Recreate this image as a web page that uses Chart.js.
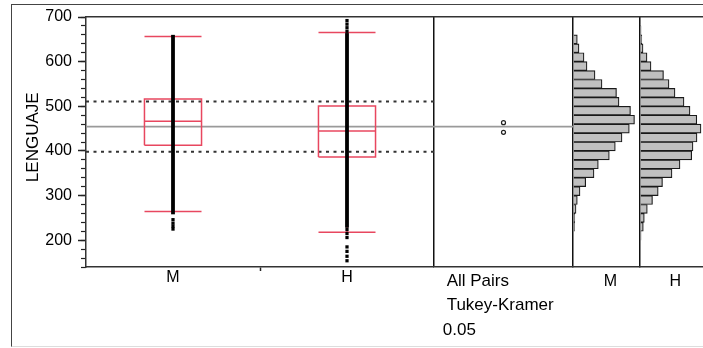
<!DOCTYPE html>
<html><head><meta charset="utf-8">
<script src="https://cdn.jsdelivr.net/npm/chart.js@4/dist/chart.umd.min.js"></script>
<style>
html,body{margin:0;padding:0;background:#fff;}
#wrap{position:relative;width:703px;height:348px;overflow:hidden;}
#frame{position:absolute;left:11px;top:4px;width:720px;height:343px;border-left:1px solid #444;border-top:1px solid #444;border-bottom:1px solid #ddd;box-sizing:border-box;}
canvas{position:absolute;left:0;top:0;}
</style></head><body>
<div id="wrap"><div id="frame"></div><canvas id="c" width="703" height="348"></canvas></div>
<script>
// ---------- data ----------
const categories = ['M', 'H'];
const yTickValues = [200, 300, 400, 500, 600, 700];
const yTitle = 'LENGUAJE';
const q1 = [413, 386.3];
const median = [466.5, 444.7];
const q3 = [516.5, 500.8];
const whiskerLow = [264.3, 218];
const whiskerHigh = [656.5, 665.4];
const bandLow = [258, 228];
const bandHigh = [660, 664];
const outliersM = [246, 238, 231, 225];
const outliersH = [692, 684, 676, 668, 224, 215, 206, 185, 175, 164, 154];
const groupMeans = [463.3, 441.7];
const grandMean = 454.3;
const sdLow = 398;
const sdHigh = 510.5;
const tukeyTitle = ['All Pairs', 'Tukey-Kramer'];
const tukeyAlpha = '0.05';
const binStarts = [200,220,240,260,280,300,320,340,360,380,400,420,440,460,480,500,520,540,560,580,600,620,640,660,680];
const histM =     [0, 1.5, 1.8, 3, 4.3, 7, 12.7, 21, 25.3, 36.3, 42.3, 49, 56.3, 61.5, 57.5, 46, 43.5, 29, 22, 14, 11, 6, 4.3, 0, 0];
const histH =     [1, 3.3, 4.3, 7.3, 12.5, 18.2, 22.5, 32, 40, 51.7, 53, 57, 61, 56.8, 50, 44, 35, 29, 23.5, 11, 7, 3, 1.8, 1, 0.6];
const binWidth = 20;

// ---------- styling ----------
const RED = '#e8475f';
const AX = '#333';
const boxHalf = 0.164;
const capRadius = 28.5;
const histMaxM = 67, histMaxH = 63;
const histLabelFrac = 0.56;
const tkTitleAt = 0.091, tkNoteAt = 0.063;
const CLEAR = 'rgba(0,0,0,0)';

Chart.defaults.font.family = '"Liberation Sans", Arial, sans-serif';
Chart.defaults.color = '#000';

function lineDs(data, opts) {
  return Object.assign({type: 'line', data, xAxisID: 'xBox', yAxisID: 'y', pointRadius: 0,
    fill: false, tension: 0, borderCapStyle: 'butt'}, opts);
}

const datasets = [];
[sdLow, sdHigh].forEach(v => datasets.push(lineDs([{x: -0.5, y: v}, {x: 50, y: v}],
  {borderColor: '#333', borderWidth: 2, borderDash: [3, 4.5], order: 20})));
datasets.push(lineDs([{x: -0.5, y: grandMean}, {x: 1.5, y: grandMean}], {borderColor: '#9a9a9a', borderWidth: 1.8, order: 19}));
datasets.push(lineDs([{x: 0, y: grandMean}, {x: 1, y: grandMean}], {xAxisID: 'xTk', borderColor: '#9a9a9a', borderWidth: 1.8, order: 19}));
function histDs(vals, axis) {
  return {type: 'bar', indexAxis: 'y', xAxisID: axis, yAxisID: 'y', grouped: false,
    data: binStarts.map((b, i) => ({x: vals[i], y: b + binWidth / 2})).filter(d => d.x > 0),
    barPercentage: 1, categoryPercentage: 1, backgroundColor: '#c0c0c0', borderColor: '#1a1a1a',
    borderWidth: 1.2, order: 10};
}
datasets.push(histDs(histM, 'xM'));
datasets.push(histDs(histH, 'xH'));
categories.forEach((c, i) => {
  datasets.push(lineDs([{x: i, y: whiskerLow[i]}, {x: i, y: whiskerHigh[i]}], {borderColor: RED, borderWidth: 1.5, order: 6}));
  datasets.push(lineDs([
    {x: i - boxHalf, y: q1[i]}, {x: i + boxHalf, y: q1[i]}, {x: i + boxHalf, y: q3[i]},
    {x: i - boxHalf, y: q3[i]}, {x: i - boxHalf, y: q1[i]}], {borderColor: RED, borderWidth: 1.5, order: 5}));
  datasets.push({type: 'scatter', xAxisID: 'xBox', yAxisID: 'y', order: 4,
    data: [median[i], whiskerLow[i], whiskerHigh[i]].map(v => ({x: i, y: v})),
    pointStyle: 'line', pointRadius: capRadius, pointBorderColor: RED, pointBorderWidth: 1.5});
  datasets.push(lineDs([{x: i, y: bandLow[i]}, {x: i, y: bandHigh[i]}], {borderColor: '#000', borderWidth: 3.8, order: 3}));
});
[outliersM, outliersH].forEach((arr, i) => datasets.push({type: 'scatter', xAxisID: 'xBox', yAxisID: 'y', order: 2,
  data: arr.map(v => ({x: i, y: v})), pointStyle: 'rect', pointRadius: 2.3,
  pointBackgroundColor: '#000', pointBorderWidth: 0}));
datasets.push({type: 'scatter', xAxisID: 'xTk', yAxisID: 'y', order: 1,
  data: groupMeans.map(v => ({x: 0.5, y: v})), pointRadius: 2, pointBorderWidth: 1.2,
  pointBorderColor: '#222', pointBackgroundColor: '#fff'});

const panelLine = c => (c.tick && c.tick.value === 0) ? '#111' : CLEAR;
const border = {display: true, color: AX, width: 1.5};
function noPad(s) { s.paddingLeft = 0; s.paddingRight = 0; s.paddingTop = 0; s.paddingBottom = 0; }
function fitX(h) { return s => { s.height = h; noPad(s); }; }

new Chart(document.getElementById('c'), {
  type: 'scatter',
  data: {datasets},
  options: {
    responsive: false, devicePixelRatio: 1, animation: false, events: [],
    layout: {autoPadding: false, padding: {top: 17, left: 0, right: 0, bottom: 0}},
    plugins: {legend: {display: false}, tooltip: {enabled: false}},
    scales: {
      xBox: {type: 'linear', position: 'bottom', stack: 'panels', stackWeight: 348, min: -0.5, max: 1.5, offset: false,
        afterBuildTicks: s => { s.ticks = [0, 0.5, 1].map(v => ({value: v})); },
        afterFit: fitX(81),
        ticks: {autoSkip: false, maxRotation: 0, minRotation: 0, padding: -3, font: {size: 16},
          callback: v => Number.isInteger(v) ? categories[v] : ''},
        grid: {display: true, drawOnChartArea: false, drawTicks: true, tickLength: 4, tickWidth: 1.5,
          tickColor: c => (c.tick && c.tick.value === 0.5) ? '#222' : CLEAR},
        border},
      xTk: {type: 'linear', position: 'bottom', stack: 'panels', stackWeight: 139, min: 0, max: 1, offset: false,
        afterBuildTicks: s => { s.ticks = [0, tkNoteAt, tkTitleAt].map(v => ({value: v})); },
        afterFit: fitX(81),
        ticks: {autoSkip: false, maxRotation: 0, minRotation: 0, align: 'start', padding: 2,
          font: {size: 17, lineHeight: 1.44},
          callback: (v, i) => i === 2 ? tukeyTitle : (i === 1 ? ['', '', tukeyAlpha] : '')},
        grid: {display: true, drawOnChartArea: true, drawTicks: false, lineWidth: 1.5, color: panelLine},
        border},
      xM: {type: 'linear', position: 'bottom', stack: 'panels', stackWeight: histMaxM, min: 0, max: histMaxM, offset: false,
        afterBuildTicks: s => { s.ticks = [0, histMaxM * histLabelFrac].map(v => ({value: v})); },
        afterFit: fitX(81),
        ticks: {autoSkip: false, maxRotation: 0, minRotation: 0, padding: 5, font: {size: 16},
          callback: (v, i) => i === 1 ? categories[0] : ''},
        grid: {display: true, drawOnChartArea: true, drawTicks: false, lineWidth: 1.5, color: panelLine},
        border},
      xH: {type: 'linear', position: 'bottom', stack: 'panels', stackWeight: histMaxH, min: 0, max: histMaxH, offset: false,
        afterBuildTicks: s => { s.ticks = [0, histMaxH * histLabelFrac].map(v => ({value: v})); },
        afterFit: fitX(81),
        ticks: {autoSkip: false, maxRotation: 0, minRotation: 0, padding: 5, font: {size: 16},
          callback: (v, i) => i === 1 ? categories[1] : ''},
        grid: {display: true, drawOnChartArea: true, drawTicks: false, lineWidth: 1.5, color: panelLine},
        border},
      xTop: {type: 'linear', position: 'top', min: 0, max: 1,
        afterFit: fitX(0),
        ticks: {display: false}, grid: {display: false}, border},
      y: {type: 'linear', position: 'left', min: 140, max: 700, weight: 1, offset: false,
        afterBuildTicks: s => { s.ticks = yTickValues.map(v => ({value: v})); },
        afterFit: s => { s.width = 86; noPad(s); },
        ticks: {padding: 6, font: {size: 16}, autoSkip: false},
        grid: {display: true, offset: false, drawOnChartArea: false, drawTicks: true, tickLength: 8, tickWidth: 1.5, tickColor: '#222'},
        border,
        title: {display: true, text: '  ' + yTitle, font: {size: 17}, padding: {top: 23, bottom: 0}}},
      yMinor: {type: 'linear', position: 'left', min: 140, max: 700, weight: 0, offset: false,
        afterFit: s => { s.width = 0; noPad(s); },
        ticks: {display: false, stepSize: 20},
        grid: {display: true, offset: false, drawOnChartArea: false, drawTicks: true, tickLength: 5, tickWidth: 1.2, tickColor: '#222'},
        border: {display: false}}
    }
  }
});
</script>
</body></html>
